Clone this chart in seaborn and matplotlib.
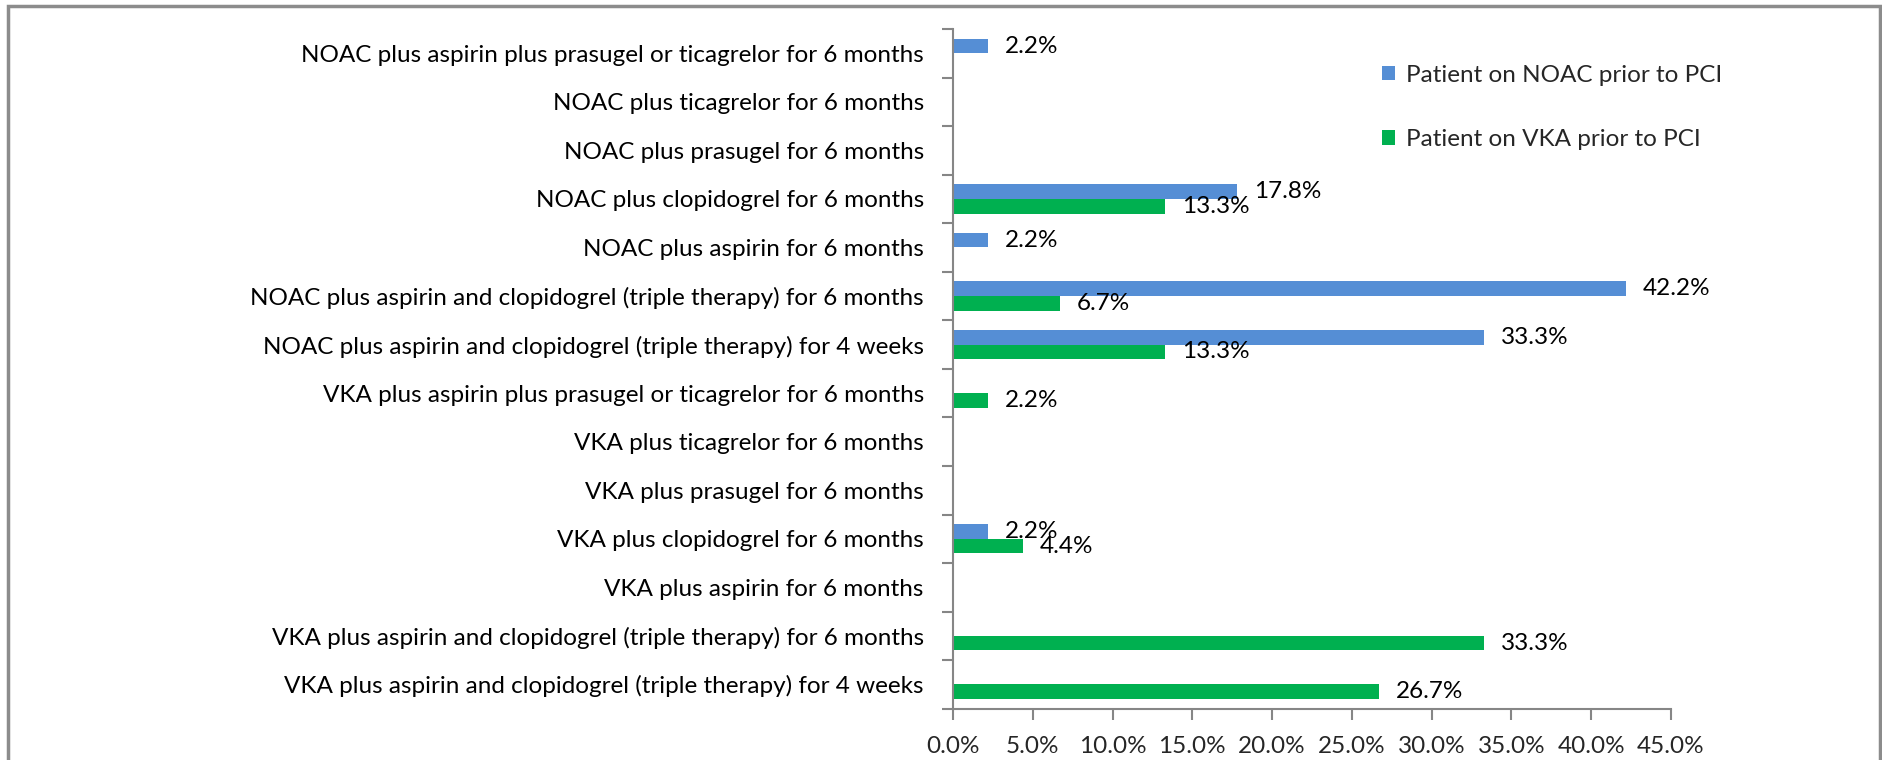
import matplotlib
matplotlib.use('Agg')
import matplotlib.pyplot as plt
import matplotlib.patches as mpatches
import pandas as pd
import seaborn as sns
from matplotlib.ticker import FixedLocator, FuncFormatter

# Strategies (top to bottom as in the chart)
categories = [
    'NOAC plus aspirin plus prasugel or ticagrelor for 6 months',
    'NOAC plus ticagrelor for 6 months',
    'NOAC plus prasugel for 6 months',
    'NOAC plus clopidogrel for 6 months',
    'NOAC plus aspirin for 6 months',
    'NOAC plus aspirin and clopidogrel (triple therapy) for 6 months',
    'NOAC plus aspirin and clopidogrel (triple therapy) for 4 weeks',
    'VKA plus aspirin plus prasugel or ticagrelor for 6 months',
    'VKA plus ticagrelor for 6 months',
    'VKA plus prasugel for 6 months',
    'VKA plus clopidogrel for 6 months',
    'VKA plus aspirin for 6 months',
    'VKA plus aspirin and clopidogrel (triple therapy) for 6 months',
    'VKA plus aspirin and clopidogrel (triple therapy) for 4 weeks',
]
noac_pct = [2.2, 0, 0, 17.8, 2.2, 42.2, 33.3, 0, 0, 0, 2.2, 0, 0, 0]
vka_pct = [0, 0, 0, 13.3, 0, 6.7, 13.3, 2.2, 0, 0, 4.4, 0, 33.3, 26.7]
series = ['Patient on NOAC prior to PCI', 'Patient on VKA prior to PCI']
colors = ['#558ED5', '#00B050']
x_ticks = [0, 5, 10, 15, 20, 25, 30, 35, 40, 45]

df = pd.DataFrame({
    'strategy': categories * 2,
    'pct': noac_pct + vka_pct,
    'group': [series[0]] * len(categories) + [series[1]] * len(categories),
})

sns.set_theme(style='white')
plt.rcParams['font.family'] = ['Lato', 'DejaVu Sans']
fs = 17.5

fig = plt.figure(figsize=(18.83, 7.6), dpi=100)
ax = fig.add_axes([0.5061, 0.0675, 0.3813, 0.8943])

sns.barplot(data=df, y='strategy', x='pct', hue='group', order=categories,
            hue_order=series, palette=colors, orient='h', width=0.6,
            linewidth=0, saturation=1, legend=False, ax=ax)

ax.set_xlim(0, 45)
ax.set_ylim(len(categories) - 0.5, -0.5)
ax.set_xticks(x_ticks)
ax.xaxis.set_major_formatter(FuncFormatter(lambda v, p: f'{v:.1f}%'))
ax.set_xlabel('')
ax.set_ylabel('')

# ticks between categories, labels at category centres
ax.yaxis.set_major_locator(FixedLocator([i - 0.5 for i in range(len(categories) + 1)]))
ax.yaxis.set_major_formatter(FuncFormatter(lambda v, p: ''))
ax.yaxis.set_minor_locator(FixedLocator(list(range(len(categories)))))
ax.set_yticklabels(categories, minor=True)

gray = '#868686'
ax.tick_params(axis='y', which='major', length=8, width=1.5, color=gray, direction='out', left=True)
ax.tick_params(axis='y', which='minor', length=0, pad=21, labelsize=fs, labelcolor='black')
ax.tick_params(axis='x', which='major', length=8, width=1.5, color=gray, direction='out',
               bottom=True, labelsize=fs, pad=12)
for s in ['top', 'right']:
    ax.spines[s].set_visible(False)
for s in ['left', 'bottom']:
    ax.spines[s].set_color(gray)
    ax.spines[s].set_linewidth(1.5)

# data labels at the end of each non-empty bar
for cont in ax.containers:
    for bar in cont:
        w = bar.get_width()
        if w <= 0:
            continue
        ax.annotate(f'{w:.1f}%', xy=(w, bar.get_y() + bar.get_height() / 2),
                    xytext=(12, 0), textcoords='offset points',
                    ha='left', va='center', fontsize=fs, color='black')

handles = [mpatches.Patch(facecolor=c, edgecolor='none', label=l) for c, l in zip(colors, series)]
fig.legend(handles=handles, loc='upper left', bbox_to_anchor=(0.734, 0.915),
           frameon=False, fontsize=fs, handlelength=0.55, handleheight=0.55,
           handletextpad=0.45, labelspacing=1.8, borderpad=0, borderaxespad=0)

# outer chart border
fig.patches.append(mpatches.Rectangle((0.0045, -0.02), 0.9939, 1.012, transform=fig.transFigure,
                                      fill=False, edgecolor='#8c8c8c', linewidth=2.5))

fig.savefig('out.png', dpi=100)
